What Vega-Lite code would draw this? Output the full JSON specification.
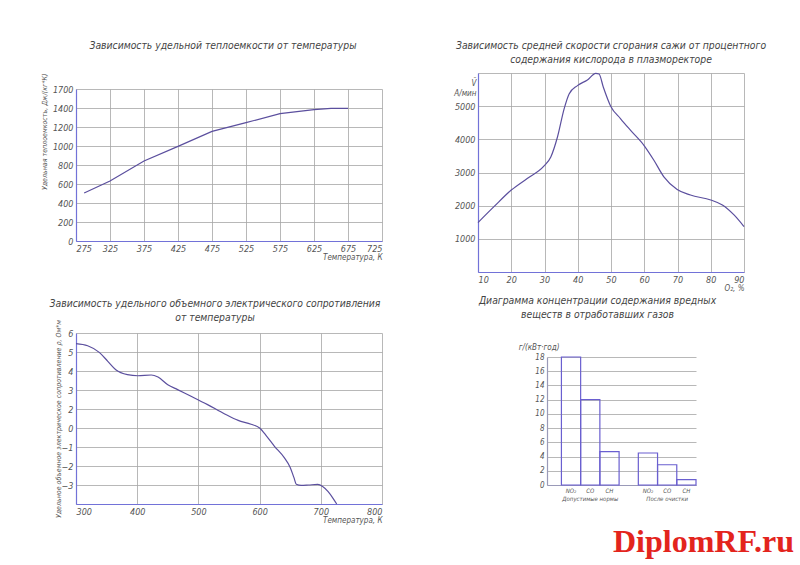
{
  "$schema": "https://vega.github.io/schema/vega-lite/v6.json",
  "description": "Sheet with four engineering charts: heat capacity, soot burn rate, resistivity, emissions.",
  "background": "white",
  "padding": {"left": 40, "top": 40, "right": 5, "bottom": 2},
  "bounds": "full",
  "spacing": 71,
  "title": {
    "text": "DiplomRF.ru",
    "orient": "bottom",
    "anchor": "end",
    "offset": 3,
    "dx": 28,
    "font": "Liberation Serif",
    "fontSize": 32,
    "fontStyle": "normal",
    "fontWeight": "bold",
    "color": "#e3241d"
  },
  "config": {
    "view": {"stroke": null},
    "font": "Liberation Sans Narrow, DejaVu Sans Condensed, Liberation Sans, sans-serif",
    "axis": {
      "labelFont": "Liberation Sans Narrow, DejaVu Sans Condensed, Liberation Sans, sans-serif",
      "labelFontStyle": "italic",
      "labelFontSize": 9,
      "labelColor": "#555555",
      "titleFont": "Liberation Sans Narrow, DejaVu Sans Condensed, Liberation Sans, sans-serif",
      "titleFontStyle": "italic",
      "titleFontWeight": "normal",
      "titleFontSize": 8,
      "titleColor": "#555555",
      "gridColor": "#a6a6a6",
      "gridWidth": 0.8,
      "gridOpacity": 1,
      "ticks": false,
      "domainColor": "#7272d8",
      "domainWidth": 1.2,
      "labelPadding": 3
    },
    "title": {
      "font": "Liberation Sans Narrow, DejaVu Sans Condensed, Liberation Sans, sans-serif",
      "fontStyle": "italic",
      "fontWeight": "normal",
      "fontSize": 10.3,
      "lineHeight": 14,
      "color": "#444444",
      "anchor": "middle"
    }
  },
  "hconcat": [
    {
      "bounds": "flush",
      "spacing": 0,
      "vconcat": [
        {"width": 306, "height": 16, "data": {"values": []}, "mark": "point", "encoding": {}},
        {
          "width": 306,
          "height": 152,
          "title": {"text": "Зависимость удельной теплоемкости от температуры", "offset": 22, "dx": -6},
          "data": {
            "values": [
              {"T": 287, "c": 505},
              {"T": 325, "c": 632},
              {"T": 375, "c": 842},
              {"T": 425, "c": 996},
              {"T": 475, "c": 1154},
              {"T": 525, "c": 1246},
              {"T": 575, "c": 1340},
              {"T": 625, "c": 1382},
              {"T": 650, "c": 1396},
              {"T": 675, "c": 1396}
            ]
          },
          "mark": {"type": "line", "color": "#5b4f9e", "strokeWidth": 1.2},
          "encoding": {
            "x": {
              "field": "T",
              "type": "quantitative",
              "scale": {"domain": [275, 725], "nice": false, "zero": false},
              "axis": {
                "values": [275, 325, 375, 425, 475, 525, 575, 625, 675, 725],
                "format": "d",
                "title": "Температура, К",
                "titleAnchor": "end",
                "titlePadding": 0
              }
            },
            "y": {
              "field": "c",
              "type": "quantitative",
              "scale": {"domain": [0, 1600], "nice": false},
              "axis": {
                "values": [0, 200, 400, 600, 800, 1000, 1200, 1400, 1600],
                "format": "d",
                "labelExpr": "datum.value == 1600 ? '1700' : datum.label",
                "title": "Удельная теплоемкость, Дж/(кг*К)",
                "titleFontSize": 7,
                "titleAnchor": "end",
                "titleY": -16,
                "titlePadding": 5
              }
            }
          }
        },
        {"width": 306, "height": 92, "data": {"values": []}, "mark": "point", "encoding": {}},
        {
          "width": 306,
          "height": 171,
          "title": {
            "text": ["Зависимость удельного объемного электрического сопротивления", "от температуры"],
            "offset": -4,
            "dx": -14
          },
          "data": {
            "values": [
              {"T": 300, "r": 5.44},
              {"T": 319, "r": 5.33},
              {"T": 338, "r": 4.98},
              {"T": 352, "r": 4.51},
              {"T": 365, "r": 4.07},
              {"T": 384, "r": 3.81},
              {"T": 401, "r": 3.75},
              {"T": 423, "r": 3.79},
              {"T": 434, "r": 3.68},
              {"T": 450, "r": 3.28},
              {"T": 466, "r": 3.02},
              {"T": 488, "r": 2.67},
              {"T": 515, "r": 2.23},
              {"T": 543, "r": 1.74},
              {"T": 565, "r": 1.4},
              {"T": 586, "r": 1.2},
              {"T": 600, "r": 1.0},
              {"T": 612, "r": 0.55},
              {"T": 624, "r": 0.05},
              {"T": 640, "r": -0.55},
              {"T": 650, "r": -1.08},
              {"T": 656, "r": -1.6},
              {"T": 660, "r": -1.96},
              {"T": 668, "r": -2.02},
              {"T": 680, "r": -2.0},
              {"T": 695, "r": -1.97},
              {"T": 703, "r": -2.08},
              {"T": 712, "r": -2.35},
              {"T": 720, "r": -2.7},
              {"T": 726, "r": -3.0}
            ]
          },
          "mark": {"type": "line", "color": "#5b4f9e", "strokeWidth": 1.2, "interpolate": "monotone"},
          "encoding": {
            "x": {
              "field": "T",
              "type": "quantitative",
              "scale": {"domain": [300, 800], "nice": false, "zero": false},
              "axis": {
                "values": [300, 400, 500, 600, 700, 800],
                "format": "d",
                "title": "Температура, К",
                "titleAnchor": "end",
                "titlePadding": 0
              }
            },
            "y": {
              "field": "r",
              "type": "quantitative",
              "scale": {"domain": [-3, 6], "nice": false, "zero": false},
              "axis": {
                "values": [-3, -2, -1, 0, 1, 2, 3, 4, 5, 6],
                "format": "d",
                "labelExpr": "datum.value >= 2 ? datum.label : (datum.value <= -3 ? '' : format(datum.value - 1, 'd'))",
                "title": "Удельное объемное электрическое сопротивление ρ, Ом*м",
                "titleFontSize": 7,
                "titlePadding": 0
              }
            }
          }
        }
      ]
    },
    {
      "bounds": "flush",
      "spacing": 85,
      "vconcat": [
        {
          "width": 266,
          "height": 199,
          "title": {
            "text": ["Зависимость средней скорости сгорания сажи от процентного", "содержания кислорода в плазморекторе"],
            "offset": 6
          },
          "data": {
            "values": [
              {"o": 10, "v": 1490},
              {"o": 14.8, "v": 1970},
              {"o": 20, "v": 2470},
              {"o": 24.8, "v": 2820},
              {"o": 29.8, "v": 3190},
              {"o": 31.9, "v": 3470},
              {"o": 33.9, "v": 4070},
              {"o": 35.9, "v": 4920},
              {"o": 37.4, "v": 5370},
              {"o": 39.9, "v": 5620},
              {"o": 42.9, "v": 5790},
              {"o": 45.4, "v": 5990},
              {"o": 46.4, "v": 5970},
              {"o": 47.7, "v": 5570},
              {"o": 49.9, "v": 5000},
              {"o": 52.9, "v": 4620},
              {"o": 55.9, "v": 4270},
              {"o": 59.9, "v": 3820},
              {"o": 62.9, "v": 3370},
              {"o": 65.9, "v": 2870},
              {"o": 69.9, "v": 2490},
              {"o": 73.9, "v": 2320},
              {"o": 80, "v": 2170},
              {"o": 83.5, "v": 2020},
              {"o": 87, "v": 1720},
              {"o": 90, "v": 1370}
            ]
          },
          "mark": {"type": "line", "color": "#5b4f9e", "strokeWidth": 1.2, "interpolate": "monotone"},
          "encoding": {
            "x": {
              "field": "o",
              "type": "quantitative",
              "scale": {"domain": [10, 90], "nice": false, "zero": false},
              "axis": {
                "values": [10, 20, 30, 40, 50, 60, 70, 80, 90],
                "format": "d",
                "title": "O₂, %",
                "titleAnchor": "end",
                "titlePadding": 0
              }
            },
            "y": {
              "field": "v",
              "type": "quantitative",
              "scale": {"domain": [0, 6000], "nice": false},
              "axis": {
                "values": [0, 1000, 2000, 3000, 4000, 5000, 6000],
                "format": "d",
                "labelExpr": "datum.value == 0 || datum.value == 6000 ? '' : datum.label",
                "title": ["V̄", "А/мин"],
                "titleAngle": 0,
                "titleAlign": "right",
                "titleBaseline": "top",
                "titleX": -2,
                "titleY": 6,
                "titleFontSize": 8
              }
            }
          }
        },
        {
          "bounds": "flush",
          "spacing": 0,
          "hconcat": [
            {"width": 69, "height": 128, "data": {"values": []}, "mark": "point", "encoding": {}},
            {
              "width": 149,
              "height": 128,
              "title": {
                "text": ["Диаграмма концентрации содержания вредных", "веществ в отработавших газов"],
                "offset": 23,
                "dx": -24
              },
              "data": {
                "values": [
                  {"k": "NO2a", "g": 18},
                  {"k": "COa", "g": 12},
                  {"k": "CHa", "g": 4.7},
                  {"k": "NO2b", "g": 4.5},
                  {"k": "COb", "g": 2.85},
                  {"k": "CHb", "g": 0.75}
                ]
              },
              "mark": {"type": "bar", "fill": "white", "fillOpacity": 0, "stroke": "#6a5fd0", "strokeWidth": 1.2},
              "encoding": {
                "x": {
                  "field": "k",
                  "type": "nominal",
                  "scale": {
                    "domain": ["NO2a", "COa", "CHa", "gap", "NO2b", "COb", "CHb"],
                    "paddingInner": 0,
                    "paddingOuter": 0.375,
                    "align": 1
                  },
                  "axis": {
                    "title": null,
                    "labelAngle": 0,
                    "labelFontSize": 6,
                    "labelPadding": 2,
                    "labelLineHeight": 8,
                    "domainColor": "#9a9ab8",
                    "labelExpr": "datum.value == 'NO2a' || datum.value == 'NO2b' ? 'NO₂' : datum.value == 'COa' ? ['CO', 'Допустимые нормы'] : datum.value == 'COb' ? ['CO', 'После очистки'] : datum.value == 'gap' ? '' : 'CH'"
                  }
                },
                "y": {
                  "field": "g",
                  "type": "quantitative",
                  "scale": {"domain": [0, 18], "nice": false},
                  "axis": {
                    "values": [0, 2, 4, 6, 8, 10, 12, 14, 16, 18],
                    "format": "d",
                    "labelFontSize": 8,
                    "domainColor": "#9a9ab8",
                    "title": "г/(кВт·год)",
                    "titleAngle": 0,
                    "titleAlign": "right",
                    "titleBaseline": "bottom",
                    "titleX": 12,
                    "titleY": -6,
                    "titleFontSize": 8
                  }
                }
              }
            }
          ]
        }
      ]
    }
  ]
}
